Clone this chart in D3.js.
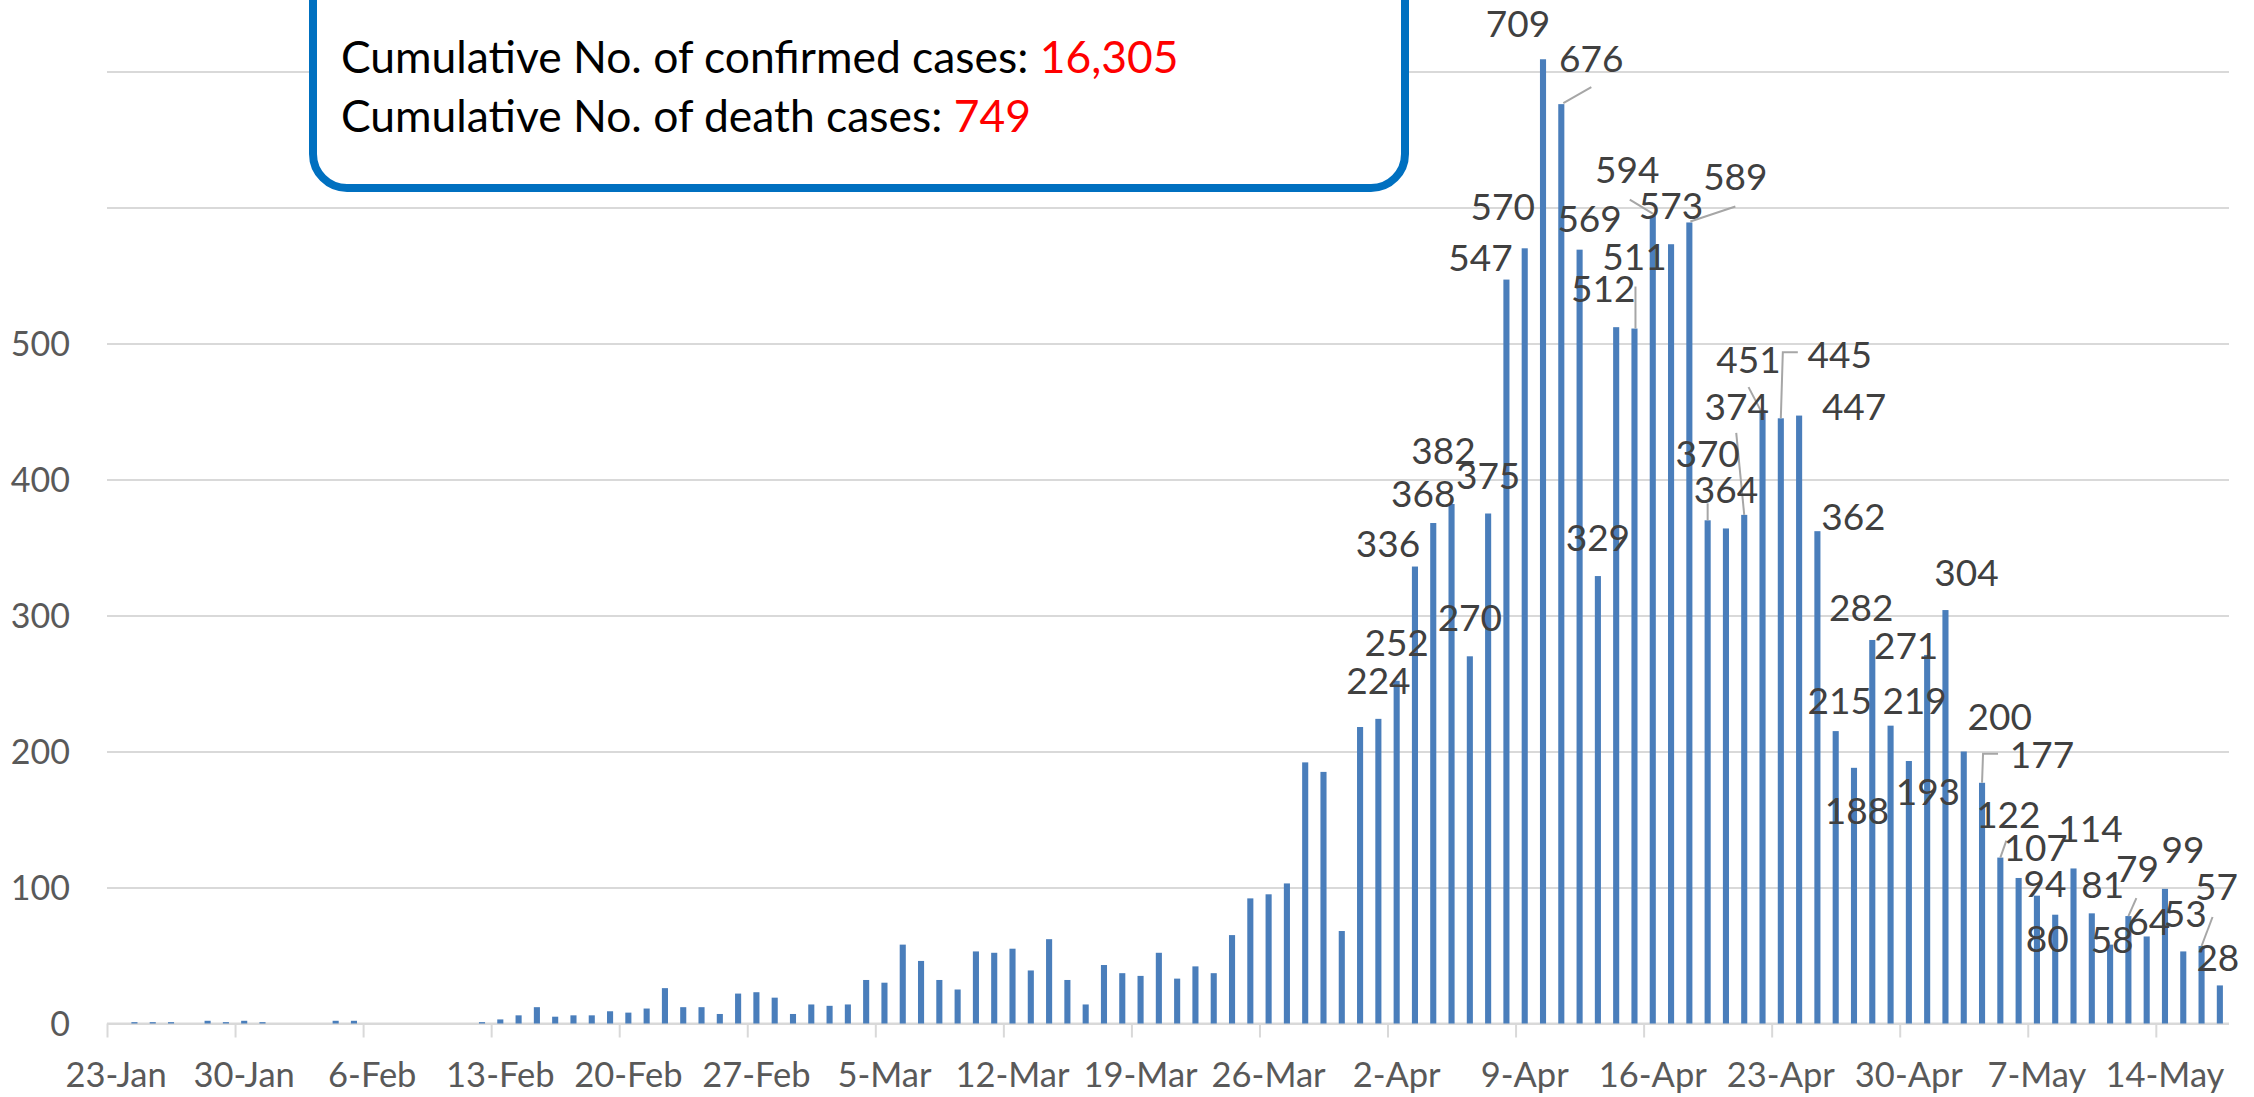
<!DOCTYPE html>
<html>
<head>
<meta charset="utf-8">
<script src="https://cdn.jsdelivr.net/npm/d3@7"></script>
<style>
  html, body { margin: 0; padding: 0; background: #ffffff; }
  svg { display: block; }
</style>
</head>
<body>
<svg id="chart" width="2254" height="1097"></svg>
<script>
// ---------------- DATA ----------------
const startDate = "2020-01-23";
// daily new confirmed cases, 23-Jan ... 17-May
const dailyCases = [
  0, 1, 1, 1, 0, 2, 1, 2, 1,            // 23-Jan .. 31-Jan
  0, 0, 0, 2, 2, 0, 0, 0, 0, 0, 0,      // 1-Feb .. 11-Feb
  1, 3, 6, 12, 5, 6, 6, 9, 8, 11,       // 12-Feb .. 21-Feb
  26, 12, 12, 7, 22, 23, 19, 7,         // 22-Feb .. 29-Feb
  14, 13, 14, 32, 30, 58, 46, 32, 25, 53, // 1-Mar .. 10-Mar
  52, 55, 39, 62, 32, 14, 43, 37, 35, 52, // 11-Mar .. 20-Mar
  33, 42, 37, 65, 92, 95, 103, 192, 185, 68, 218, // 21-Mar .. 31-Mar
  224, 252, 336, 368, 382, 270, 375, 547, 570, 709, // 1-Apr .. 10-Apr
  676, 569, 329, 512, 511, 594, 573, 589, 370, 364, // 11-Apr .. 20-Apr
  374, 451, 445, 447, 362, 215, 188, 282, 219, 193, // 21-Apr .. 30-Apr
  271, 304, 200, 177, 122, 107, 94, 80, 114, 81,    // 1-May .. 10-May
  58, 79, 64, 99, 53, 57, 28                         // 11-May .. 17-May
];
const yTickValues = [0, 100, 200, 300, 400, 500];
const gridValues = [0, 100, 200, 300, 400, 500, 600, 700];
const xTickLabels = ["23-Jan","30-Jan","6-Feb","13-Feb","20-Feb","27-Feb","5-Mar",
  "12-Mar","19-Mar","26-Mar","2-Apr","9-Apr","16-Apr","23-Apr","30-Apr","7-May","14-May"];
const firstLabelledDate = "2020-04-01";
const summaryLabels = ["Cumulative No. of confirmed cases: ", "Cumulative No. of death cases: "];
const summaryValues = ["16,305", "749"];

// ---------------- LAYOUT (positions / styles) ----------------
const W = 2254, H = 1097;
const plot = { left: 107, right: 2229, top: 71.5, bottom: 1023.5 };
const colors = { bar: "#4A7EBB", grid: "#D9D9D9", tick: "#595959", label: "#404040",
                 leader: "#A6A6A6", box: "#0070C0", red: "#FF0000" };
const fonts = { main: "Lato, 'Open Sans', sans-serif" };
// data-label offsets relative to the bar top centre: [dx, dy(baseline)]
const defaultLabelOffset = [0, -25];
const labelOffsets = {
  "2020-04-03": [-27, -9.5], "2020-04-04": [-10, -16], "2020-04-05": [-8, -40],
  "2020-04-08": [-26, -8.6], "2020-04-09": [-22, -28], "2020-04-10": [-25, -22],
  "2020-04-11": [30, -32], "2020-04-12": [10, -18], "2020-04-14": [-13, -25],
  "2020-04-15": [0, -58.5], "2020-04-16": [-25.5, -32.7], "2020-04-18": [46, -32.5],
  "2020-04-19": [0, -53], "2020-04-21": [-7.5, -95], "2020-04-22": [-14, -37],
  "2020-04-23": [59, -50], "2020-04-24": [55, 4.4], "2020-04-25": [36, -1],
  "2020-04-26": [4, -17], "2020-04-27": [3, 56], "2020-04-28": [-11, -18.5],
  "2020-04-29": [24, -12], "2020-04-30": [19, 44], "2020-05-01": [-21, 4],
  "2020-05-02": [21, -24], "2020-05-03": [36, -21.5], "2020-05-04": [60, -15],
  "2020-05-05": [8, -30], "2020-05-06": [17, -17], "2020-05-07": [8, 1],
  "2020-05-08": [-8, 37], "2020-05-09": [17, -26], "2020-05-10": [11, -15],
  "2020-05-11": [2, 8], "2020-05-12": [9, -34], "2020-05-13": [2, -1],
  "2020-05-14": [18, -26], "2020-05-15": [2, -24], "2020-05-16": [15, -46],
  "2020-05-17": [-2, -14]
};
// leader lines, points relative to the bar top centre
const leaderLines = {
  "2020-04-11": [[2, -1], [30, -17]],
  "2020-04-15": [[1, 0], [1, -42]],
  "2020-04-16": [[0, -2], [-23, -16]],
  "2020-04-18": [[1, -1], [46, -16]],
  "2020-04-19": [[0, 0], [0, -17]],
  "2020-04-21": [[0, 0], [-8, -82]],
  "2020-04-22": [[-2, 0], [-14, -23]],
  "2020-04-23": [[0, 0], [2, -66], [17, -66]],
  "2020-05-04": [[0, 0], [1, -29], [16, -29]],
  "2020-05-05": [[0, 0], [6, -17]],
  "2020-05-12": [[0, 0], [8, -18]],
  "2020-05-16": [[0, 0], [11, -29]]
};

// ---------------- BUILD ----------------
const parse = d3.timeParse("%Y-%m-%d");
const fmtKey = d3.timeFormat("%Y-%m-%d");
const start = parse(startDate);
const records = dailyCases.map((v, i) => {
  const d = d3.timeDay.offset(start, i);
  return { date: d, key: fmtKey(d), value: v };
});
const endBoundary = d3.timeDay.offset(start, dailyCases.length);

const svg = d3.select("#chart");
svg.append("rect").attr("width", W).attr("height", H).attr("fill", "#fff");

const x = d3.scaleBand()
  .domain(records.map(d => d.key))
  .range([plot.left, plot.right])
  .paddingInner(2 / 3)
  .paddingOuter(1 / 3);
const xTime = d3.scaleTime().domain([start, endBoundary]).range([plot.left, plot.right]);
const y = d3.scaleLinear().domain([0, 700]).range([plot.bottom, plot.top]);

// gridlines
const grid = svg.append("g")
  .attr("transform", `translate(${plot.left},0)`)
  .call(d3.axisLeft(y).tickValues(gridValues).tickSize(-(plot.right - plot.left)).tickFormat(""));
grid.select(".domain").remove();
grid.selectAll("line").attr("stroke", colors.grid).attr("stroke-width", 2);

// y tick labels
const yAxis = svg.append("g")
  .attr("transform", `translate(${plot.left},0)`)
  .call(d3.axisLeft(y).tickValues(yTickValues).tickSize(0).tickPadding(37).tickFormat(d3.format("d")));
yAxis.select(".domain").remove();
yAxis.selectAll("text")
  .attr("fill", colors.tick).attr("font-family", fonts.main).attr("font-size", 34)
  .attr("dy", "0.35em");

// x tick marks at week boundaries
const weekStarts = d3.range(0, dailyCases.length, 7).map(i => d3.timeDay.offset(start, i));
const xTicks = svg.append("g")
  .attr("transform", `translate(0,${plot.bottom})`)
  .call(d3.axisBottom(xTime).tickValues(weekStarts).tickSize(14).tickFormat(""));
xTicks.select(".domain").attr("stroke", colors.grid).attr("stroke-width", 2)
  .attr("d", `M${plot.left},0H${plot.right}`);
xTicks.selectAll(".tick line").attr("stroke", colors.grid).attr("stroke-width", 2);

// x tick labels (centred under the labelled day)
const labelKeys = weekStarts.map(fmtKey);
const xLabels = svg.append("g")
  .attr("transform", `translate(0,${plot.bottom})`)
  .call(d3.axisBottom(x).tickValues(labelKeys).tickSize(0).tickPadding(0)
    .tickFormat((k, i) => xTickLabels[i]));
xLabels.select(".domain").remove();
xLabels.selectAll("text")
  .attr("fill", colors.tick).attr("font-family", fonts.main).attr("font-size", 34.5)
  .attr("dy", null).attr("y", 63.5);

// bars
svg.append("g").selectAll("rect").data(records).join("rect")
  .attr("x", d => x(d.key))
  .attr("y", d => y(d.value))
  .attr("width", x.bandwidth())
  .attr("height", d => y(0) - y(d.value))
  .attr("fill", colors.bar);

// leader lines
const cx = d => x(d.key) + x.bandwidth() / 2;
const labelled = records.filter(d => d.key >= firstLabelledDate);
const line = d3.line();
svg.append("g").selectAll("path")
  .data(labelled.filter(d => leaderLines[d.key]))
  .join("path")
  .attr("d", d => line(leaderLines[d.key].map(p => [cx(d) + p[0], y(d.value) + p[1]])))
  .attr("fill", "none").attr("stroke", colors.leader).attr("stroke-width", 2);

// data labels
svg.append("g").selectAll("text").data(labelled).join("text")
  .attr("x", d => cx(d) + (labelOffsets[d.key] || defaultLabelOffset)[0])
  .attr("y", d => y(d.value) + (labelOffsets[d.key] || defaultLabelOffset)[1])
  .attr("text-anchor", "middle")
  .attr("font-family", fonts.main).attr("font-size", 37)
  .attr("fill", colors.label)
  .text(d => d3.format(",")(d.value));

// summary box
const box = svg.append("g");
box.append("rect")
  .attr("x", 313).attr("y", -80).attr("width", 1092).attr("height", 268)
  .attr("rx", 34).attr("ry", 34)
  .attr("fill", "#fff").attr("stroke", colors.box).attr("stroke-width", 8);
const baselines = [73, 132];
summaryLabels.forEach((lab, i) => {
  const t = box.append("text")
    .attr("x", 341).attr("y", baselines[i])
    .attr("font-family", fonts.main).attr("font-size", 44.4);
  t.append("tspan").attr("fill", "#000").text(lab);
  t.append("tspan").attr("fill", colors.red).text(summaryValues[i]);
});
</script>
</body>
</html>
